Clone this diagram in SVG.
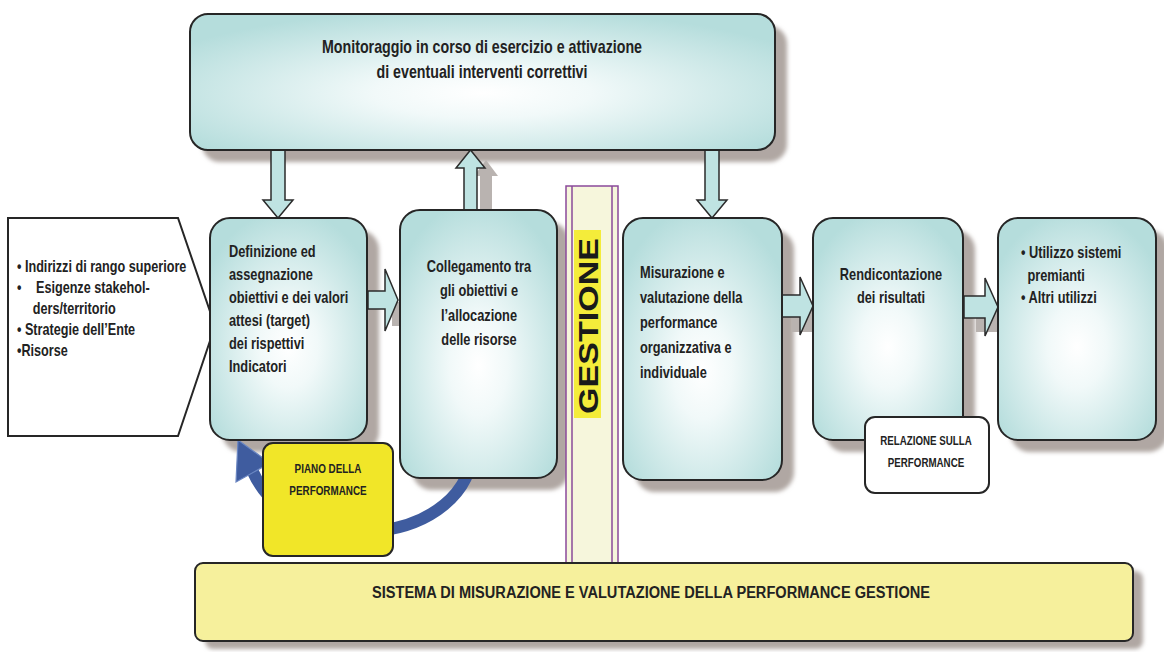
<svg xmlns="http://www.w3.org/2000/svg" width="1164" height="652" viewBox="0 0 1164 652">
  <defs>
    <radialGradient id="cyanFill" cx="50%" cy="58%" r="62%">
      <stop offset="0" stop-color="#ffffff"/>
      <stop offset="0.3" stop-color="#f1f9f9"/>
      <stop offset="1" stop-color="#b5dddc"/>
    </radialGradient>
    <filter id="soft" x="-10%" y="-10%" width="120%" height="120%">
      <feGaussianBlur stdDeviation="2"/>
    </filter>
    <style>
      .box { fill: url(#cyanFill); stroke: #262626; stroke-width: 2; }
      .shadow { fill: #b0a7a3; filter: url(#soft); }
      .arrow { fill: #bfe3e2; stroke: #2b2b2b; stroke-width: 1.5; stroke-linejoin: miter; }
      .ashadow { fill: #b9b3b0; }
      .t { font-family: "Liberation Sans", Arial, sans-serif; font-weight: bold; fill: #222222; }
      .f18 { font-size: 18px; }
      .f16 { font-size: 16px; }
      .f13 { font-size: 13px; }
      .mid { text-anchor: middle; }
    </style>
  </defs>

  <rect width="1164" height="652" fill="#ffffff"/>

  <!-- shadows under the boxes -->
  <g id="shadows">
    <rect class="shadow" x="202" y="26" width="585" height="136" rx="18"/>
    <rect class="shadow" x="222" y="230" width="157" height="222" rx="20"/>
    <rect class="shadow" x="412" y="222" width="157" height="268" rx="20"/>
    <rect class="shadow" x="635" y="230" width="159" height="262" rx="20"/>
    <rect class="shadow" x="825" y="230" width="150" height="222" rx="20"/>
    <rect class="shadow" x="1010" y="230" width="158" height="222" rx="20"/>
    <rect class="shadow" x="205" y="571" width="938" height="78" rx="8"/>
  </g>

  <!-- connectors -->
  <g id="connectors">
    <!-- grey shadow copies of the block arrows -->
    <path class="ashadow" d="M480 244 L492 244 L492 176 L498 176 L486 160 L474 176 L480 176 Z"/>
    <path class="ashadow" d="M392 302 L402 302 L402 282 L414 314 L402 346 L402 326 L392 326 Z"/>
    <path class="ashadow" d="M792 306 L812 306 L812 288 L826 320 L812 352 L812 332 L792 332 Z"/>
    <path class="ashadow" d="M976 306 L998 306 L998 288 L1011 320 L998 352 L998 332 L976 332 Z"/>

    <!-- monitoring arrows -->
    <path class="arrow" d="M271 150 L285 150 L285 200 L293 200 L278 218 L263 200 L271 200 Z"/>
    <path class="arrow" d="M464 210 L477 210 L477 168 L485 168 L470.5 150 L456 168 L464 168 Z"/>
    <path class="arrow" d="M705 150 L719 150 L719 200 L727 200 L712 218 L697 200 L705 200 Z"/>

    <!-- flow arrows -->
    <path class="arrow" d="M368 291 L385 291 L385 269 L398 300 L385 331 L385 309 L368 309 Z"/>
    <path class="arrow" d="M782 295 L800 295 L800 277 L813 306 L800 335 L800 317 L782 317 Z"/>
    <path class="arrow" d="M964 296 L985 296 L985 278 L998 307 L985 336 L985 318 L964 318 Z"/>

    <!-- feedback arc into the plan -->
    <path d="M473 446 C 472 545, 295 565, 253 472" fill="none" stroke="#3f5c9f" stroke-width="12"/>
    <polygon points="238,440 270,463 236,482" fill="#3f5c9f" stroke="#6a86c2" stroke-width="1.2"/>
  </g>

  <!-- monitoring -->
  <g id="monitoraggio">
    <rect class="box" x="190" y="14" width="585" height="136" rx="18"/>
    <g transform="translate(482 0) scale(0.79 1)">
      <text class="t f18 mid" x="0" y="53">Monitoraggio in corso di esercizio e attivazione</text>
      <text class="t f18 mid" x="0" y="78">di eventuali interventi correttivi</text>
    </g>
  </g>

  <!-- inputs -->
  <g id="input">
    <polygon points="8,218 178,218 215,326 178,436 8,436" fill="#ffffff" stroke="#262626" stroke-width="2"/>
  </g>

  <g id="definizione">
    <rect class="box" x="210" y="218" width="157" height="222" rx="20"/>
    <g transform="translate(229 0) scale(0.8 1)">
      <text class="t f16" x="0" y="257">Definizione ed</text>
      <text class="t f16" x="0" y="280">assegnazione</text>
      <text class="t f16" x="0" y="303">obiettivi e dei valori</text>
      <text class="t f16" x="0" y="326">attesi (target)</text>
      <text class="t f16" x="0" y="349">dei rispettivi</text>
      <text class="t f16" x="0" y="372">Indicatori</text>
    </g>
  </g>

  <g id="input-text">
    <g transform="translate(17 0) scale(0.79 1)">
      <text class="t f16" x="0" y="272">• Indirizzi di rango superiore</text>
      <text class="t f16" y="293"><tspan x="0">•</tspan><tspan x="24">Esigenze stakehol-</tspan></text>
      <text class="t f16" x="20" y="314">ders/territorio</text>
      <text class="t f16" x="0" y="335">• Strategie dell’Ente</text>
      <text class="t f16" x="0" y="356">•Risorse</text>
    </g>
  </g>

  <g id="collegamento">
    <rect class="box" x="400" y="210" width="157" height="268" rx="20"/>
    <g transform="translate(479 0) scale(0.8 1)">
      <text class="t f16 mid" x="0" y="272">Collegamento tra</text>
      <text class="t f16 mid" x="0" y="296">gli obiettivi e</text>
      <text class="t f16 mid" x="0" y="321">l’allocazione</text>
      <text class="t f16 mid" x="0" y="345">delle risorse</text>
    </g>
  </g>

  <g id="gestione">
    <rect x="566" y="186" width="52" height="380" fill="#f6f6dc" stroke="#8a4a9a" stroke-width="1.5"/>
    <line x1="572" y1="186" x2="572" y2="566" stroke="#8a4a9a" stroke-width="1.5"/>
    <line x1="612" y1="186" x2="612" y2="566" stroke="#8a4a9a" stroke-width="1.5"/>
    <rect x="574" y="230" width="27" height="188" fill="#f4ec3a"/>
    <text transform="translate(598 414) rotate(-90)" font-family="'Liberation Sans', Arial, sans-serif" font-weight="900" font-size="28" fill="#1a1a1a" textLength="176" lengthAdjust="spacingAndGlyphs">GESTIONE</text>
  </g>

  <g id="misurazione">
    <rect class="box" x="623" y="218" width="159" height="262" rx="20"/>
    <g transform="translate(640 0) scale(0.8 1)">
      <text class="t f16" x="0" y="278">Misurazione e</text>
      <text class="t f16" x="0" y="303">valutazione della</text>
      <text class="t f16" x="0" y="328">performance</text>
      <text class="t f16" x="0" y="353">organizzativa e</text>
      <text class="t f16" x="0" y="378">individuale</text>
    </g>
  </g>

  <g id="rendicontazione">
    <rect class="box" x="813" y="218" width="150" height="222" rx="20"/>
    <g transform="translate(891 0) scale(0.8 1)">
      <text class="t f16 mid" x="0" y="280">Rendicontazione</text>
      <text class="t f16 mid" x="0" y="303">dei risultati</text>
    </g>
  </g>

  <g id="utilizzo">
    <rect class="box" x="998" y="218" width="158" height="222" rx="20"/>
    <g transform="translate(1021 0) scale(0.8 1)">
      <text class="t f16" x="0" y="258">• Utilizzo sistemi</text>
      <text class="t f16" x="8" y="281">premianti</text>
      <text class="t f16" x="0" y="303">• Altri utilizzi</text>
    </g>
  </g>

  <g id="relazione">
    <rect x="865" y="417" width="124" height="76" rx="10" fill="#ffffff" stroke="#262626" stroke-width="2"/>
    <g transform="translate(926 0) scale(0.75 1)">
      <text class="t f13 mid" x="0" y="445">RELAZIONE SULLA</text>
      <text class="t f13 mid" x="0" y="467">PERFORMANCE</text>
    </g>
  </g>

  <g id="piano">
    <rect x="263" y="443" width="130" height="113" rx="10" fill="#f1e628" stroke="#262626" stroke-width="2"/>
    <g transform="translate(328 0) scale(0.76 1)">
      <text class="t f13 mid" x="0" y="473">PIANO DELLA</text>
      <text class="t f13 mid" x="0" y="495">PERFORMANCE</text>
    </g>
  </g>

  <g id="sistema">
    <rect x="195" y="563" width="938" height="78" rx="8" fill="#f6f09c" stroke="#262626" stroke-width="2"/>
    <text class="t f16" x="372" y="598" textLength="558" lengthAdjust="spacingAndGlyphs">SISTEMA DI MISURAZIONE E VALUTAZIONE DELLA PERFORMANCE GESTIONE</text>
  </g>
</svg>
